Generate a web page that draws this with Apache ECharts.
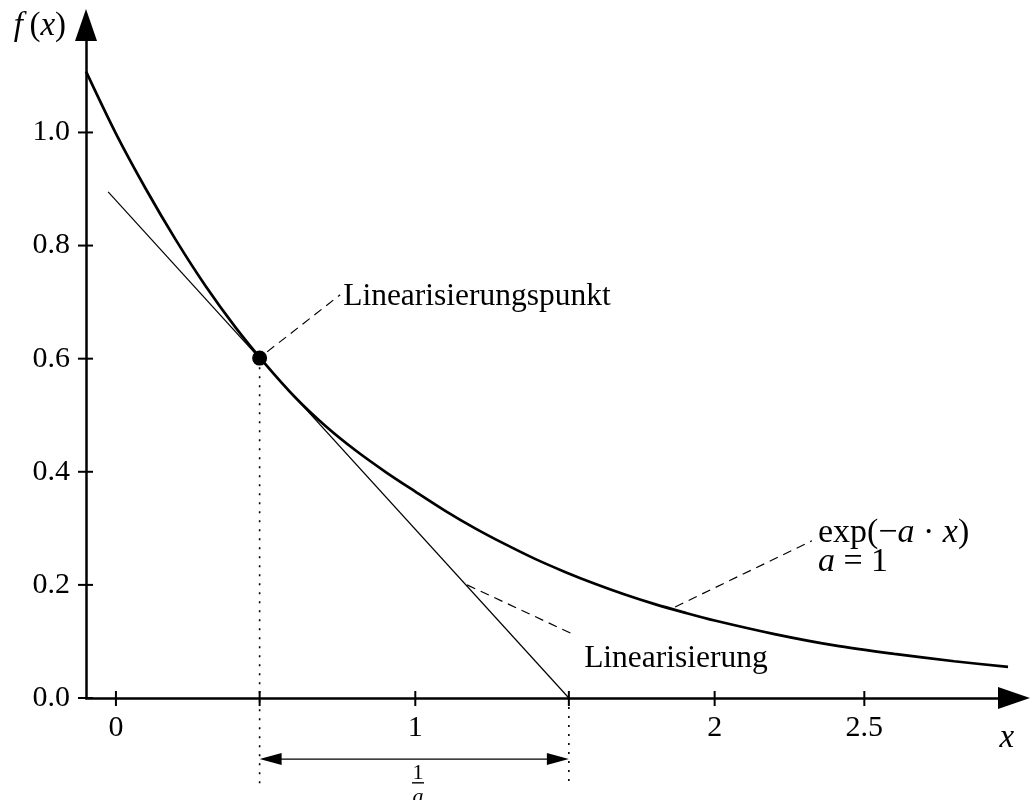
<!DOCTYPE html>
<html><head><meta charset="utf-8">
<script src="https://cdn.jsdelivr.net/npm/echarts@6/dist/echarts.min.js"></script>
<style>html,body{margin:0;padding:0;background:#fff}#c{width:1034px;height:800px}</style>
</head><body><div id="c"></div>
<script>
// ---- data ----
const curveX = [-0.1, 0, 0.1, 0.2, 0.3, 0.4, 0.5, 0.6, 0.7, 0.8, 0.9, 1.0, 1.1, 1.2, 1.3, 1.4, 1.5, 1.6, 1.7, 1.8, 1.9, 2.0, 2.2, 2.4, 2.6, 2.8, 2.98];
const curveY = [1.108, 0.998, 0.900, 0.810, 0.728, 0.655, 0.590, 0.531, 0.481, 0.438, 0.400, 0.365, 0.331, 0.300, 0.272, 0.246, 0.223, 0.202, 0.183, 0.166, 0.151, 0.137, 0.113, 0.093, 0.078, 0.065, 0.055];
const tangentX = [-0.026, 1.513];
const tangentY = [0.895, 0.0];
const pointX = [0.48];
const pointY = [0.601];
const xTickValues = [0, 0.48, 1, 1.513, 2, 2.5];
const xLabelValues = [0, 1, 2, 2.5];
const yTickValues = [0, 0.2, 0.4, 0.6, 0.8, 1.0];
// leader lines [x1, y1, x2, y2]
const leaderLines = [
  [0.505, 0.612, 0.749, 0.713],
  [1.868, 0.161, 2.325, 0.278],
  [1.173, 0.200, 1.534, 0.111]
];
// dotted guides [x, yTop, yBottom]
const guideLines = [
  [0.48, 0.585, -0.157],
  [1.513, 0.0, -0.157]
];
// span arrow [x1, x2, y]
const spanArrow = [[0.48, 1.513, -0.108]];
const noteTexts = ['Linearisierungspunkt', 'Linearisierung', 'exp(−{i|a} · {i|x})', '{i|a} = 1'];
const noteX = [0.759, 1.564, 2.345, 2.345];
const noteY = [0.709, 0.069, 0.292, 0.240];
const xName = 'x', yName = 'f(x)';
const xMin = -0.1, xMax = 3.0, yMin = 0, yMax = 1.19;

const FONT = "'Liberation Serif', 'Times New Roman', serif";
const chart = echarts.init(document.getElementById('c'), null, {renderer: 'canvas'});

const axisLineStyle = {show: true, onZero: false, symbol: ['none', 'triangle'], symbolSize: [22, 32], lineStyle: {color: '#000', width: 2.5}};

function tickRender(dir) {
  return function (params, api) {
    const p = api.coord([api.value(0), api.value(1)]);
    const shape = dir === 'x'
      ? {x1: p[0], y1: p[1] - 7, x2: p[0], y2: p[1] + 8}
      : {x1: p[0] - 8, y1: p[1], x2: p[0] + 7, y2: p[1]};
    return {type: 'line', shape: shape, style: {stroke: '#000', lineWidth: 2}};
  };
}

const series = [];
series.push({
  type: 'line', data: curveX.map((x, i) => [x, curveY[i]]), smooth: 0.3, showSymbol: false,
  lineStyle: {color: '#000', width: 2.7}, z: 4, silent: true
});
series.push({
  type: 'line', data: tangentX.map((x, i) => [x, tangentY[i]]), showSymbol: false,
  lineStyle: {color: '#000', width: 1.2}, z: 3, silent: true
});
leaderLines.forEach(l => series.push({
  type: 'line', data: [[l[0], l[1]], [l[2], l[3]]], showSymbol: false, clip: false,
  lineStyle: {color: '#000', width: 1.2, type: [9, 6]}, z: 3, silent: true
}));
guideLines.forEach(g => series.push({
  type: 'line', data: [[g[0], g[1]], [g[0], g[2]]], showSymbol: false, clip: false,
  lineStyle: {color: '#000', width: 1.6, type: [2, 7]}, z: 2, silent: true
}));
series.push({
  type: 'scatter', data: pointX.map((x, i) => [x, pointY[i]]), symbolSize: 15,
  itemStyle: {color: '#000', opacity: 1}, z: 6, silent: true
});
series.push({
  type: 'custom', clip: false, silent: true, z: 5,
  data: xTickValues.map(v => [v, yMin]), renderItem: tickRender('x')
});
series.push({
  type: 'custom', clip: false, silent: true, z: 5,
  data: yTickValues.map(v => [xMin, v]), renderItem: tickRender('y')
});
series.push({
  type: 'custom', clip: false, silent: true, z: 5,
  data: spanArrow,
  renderItem: function (params, api) {
    const a = api.coord([api.value(0), api.value(2)]);
    const b = api.coord([api.value(1), api.value(2)]);
    const L = 22, W = 6;
    return {type: 'group', children: [
      {type: 'line', shape: {x1: a[0] + 5, y1: a[1], x2: b[0] - 5, y2: b[1]}, style: {stroke: '#000', lineWidth: 1.2}},
      {type: 'polygon', shape: {points: [[a[0], a[1]], [a[0] + L, a[1] - W], [a[0] + L, a[1] + W]]}, style: {fill: '#000'}},
      {type: 'polygon', shape: {points: [[b[0], b[1]], [b[0] - L, b[1] - W], [b[0] - L, b[1] + W]]}, style: {fill: '#000'}}
    ]};
  }
});
// fraction 1/a under the span arrow
series.push({
  type: 'custom', clip: false, silent: true, z: 5,
  data: [[1.009, -0.133, -0.150, -0.176]],
  renderItem: function (params, api) {
    const n = api.coord([api.value(0), api.value(1)]);
    const bar = api.coord([api.value(0), api.value(2)]);
    const d = api.coord([api.value(0), api.value(3)]);
    return {type: 'group', children: [
      {type: 'text', x: n[0], y: n[1], style: {text: '1', fontFamily: FONT, fontSize: 22, fill: '#000', align: 'center', verticalAlign: 'middle'}},
      {type: 'line', shape: {x1: bar[0] - 6, y1: bar[1], x2: bar[0] + 6, y2: bar[1]}, style: {stroke: '#000', lineWidth: 1.4}},
      {type: 'text', x: d[0], y: d[1], style: {text: 'a', fontFamily: FONT, fontStyle: 'italic', fontSize: 22, fill: '#000', align: 'center', verticalAlign: 'middle'}}
    ]};
  }
});
const richMath = {i: {fontStyle: 'italic', fontFamily: FONT, fontSize: 34, fill: '#000'}};
const richName = {i: {fontStyle: 'italic', fontFamily: FONT, fontSize: 33, fill: '#000'}};
series.push({
  type: 'custom', clip: false, silent: true, z: 6,
  data: noteX.map((x, i) => [x, noteY[i]]),
  renderItem: function (params, api) {
    const p = api.coord([api.value(0), api.value(1)]);
    const isMath = params.dataIndex >= 2;
    return {type: 'text', x: p[0], y: p[1], style: {
      text: noteTexts[params.dataIndex], fontFamily: FONT, fontSize: isMath ? 34 : 31.5, fill: '#000',
      align: 'left', verticalAlign: 'middle', rich: richMath
    }};
  }
});
// axis names
series.push({
  type: 'custom', clip: false, silent: true, z: 6,
  data: [[2.976, -0.071, 0], [-0.254, 1.187, 1]],
  renderItem: function (params, api) {
    const p = api.coord([api.value(0), api.value(1)]);
    const txt = params.dataIndex === 0 ? '{i|' + xName + '}' : '{i|f\u2009}(' + '{i|x})';
    return {type: 'text', x: p[0], y: p[1], style: {
      text: txt, fontFamily: FONT, fontSize: 33, fill: '#000', align: 'center', verticalAlign: 'middle', rich: richName
    }};
  }
});

chart.setOption({
  animation: false,
  backgroundColor: '#fff',
  grid: {left: 86, right: 20, top: 25, bottom: 102, containLabel: false, outerBoundsMode: 'none'},
  xAxis: {
    type: 'value', min: xMin, max: xMax, axisLine: axisLineStyle, axisTick: {show: false}, splitLine: {show: false},
    axisLabel: {customValues: xLabelValues, margin: 15, color: '#000', fontSize: 30, fontFamily: FONT,
      formatter: v => String(v)}
  },
  yAxis: {
    type: 'value', min: yMin, max: yMax, axisLine: axisLineStyle, axisTick: {show: false}, splitLine: {show: false},
    axisLabel: {customValues: yTickValues, margin: 16, color: '#000', fontSize: 30, fontFamily: FONT,
      formatter: v => v.toFixed(1)}
  },
  series: series
});
</script></body></html>
